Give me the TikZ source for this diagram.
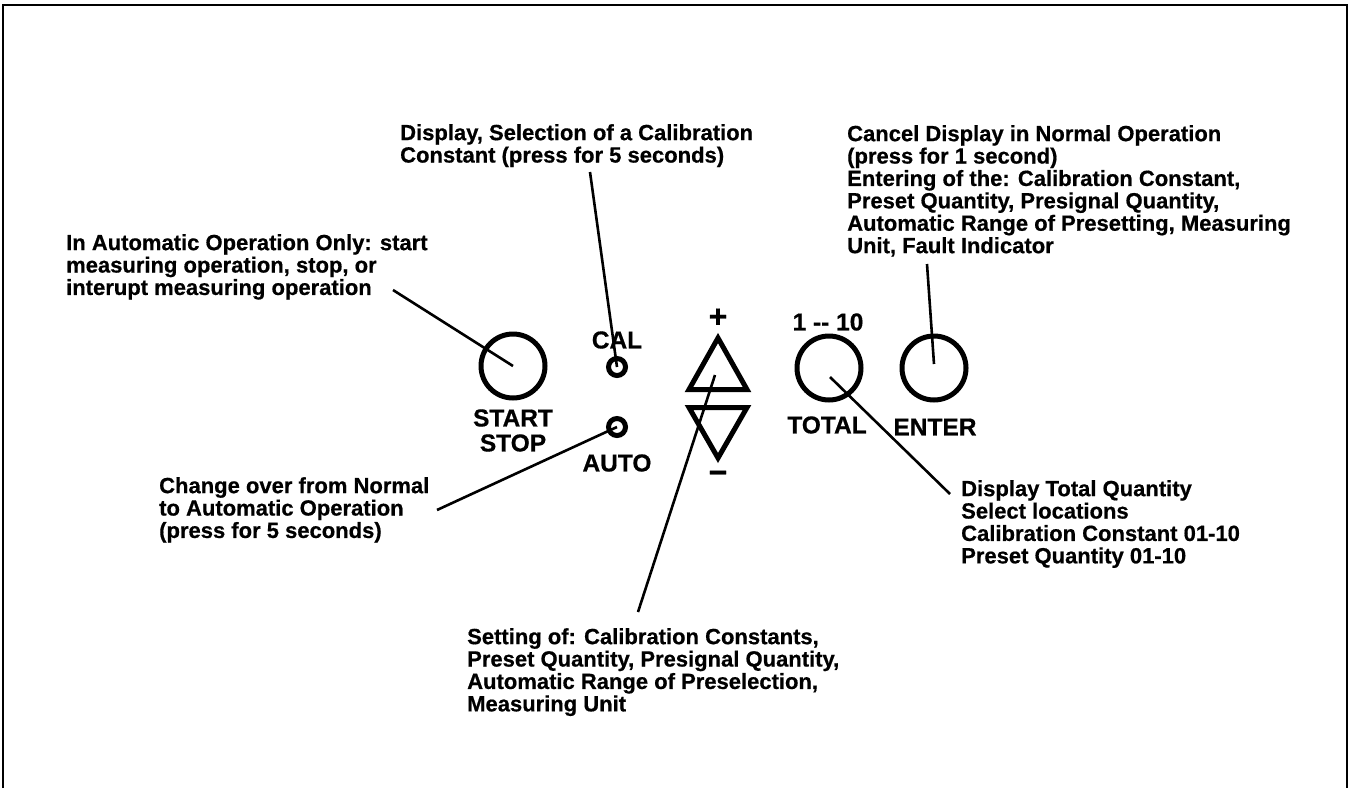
\documentclass[tikz,border=0pt]{standalone}
\usepackage{fontspec}
\setmainfont{Liberation Sans}[BoldFeatures={FakeBold=0.6}]
\begin{document}
\begin{tikzpicture}[x=1pt,y=-1pt,
  lbl/.style={anchor=north west, inner sep=0pt, align=left, font=\fontsize{22}{22.4}\selectfont\bfseries},
  keylbl/.style={inner sep=0pt, font=\fontsize{24.5}{24.5}\selectfont\bfseries},
  signlbl/.style={inner sep=0pt, font=\fontsize{32}{32}\selectfont\bfseries},
  btn/.style={circle, draw, line width=5pt, minimum size=64pt, inner sep=0pt},
  led/.style={circle, draw, line width=5pt, minimum size=17pt, inner sep=0pt},
  leader/.style={line width=2.6pt},
  tri/.style={line width=5pt, line join=miter}]
\useasboundingbox (0,0) rectangle (1350,788);
% frame
\draw[line width=2.2pt] (3,788) -- (3,5) -- (1347,5) -- (1347,788);

% buttons
\node[btn] (start) at (513,366) {};
\node[keylbl] (startt) at (513,418) {START};
\node[keylbl] (stopt) at (513,443) {STOP};
\node[keylbl] (calt) at (617,340) {CAL};
\node[led] (cal) at (617,367) {};
\node[led] (auto) at (617,427) {};
\node[keylbl] (autot) at (617,463) {AUTO};
\node[signlbl] (plus) at (718,318) {+};
\node[signlbl] (minus) at (718,477) {−};
\draw[tri] (689,389.5) -- (718,338) -- (747,389.5) -- cycle;
\draw[tri] (689,407.5) -- (718,458) -- (747,407.5) -- cycle;
\coordinate (updn) at (715,375);
\node[keylbl] (range) at (828,322) {1 -{}- 10};
\node[btn] (total) at (829,368) {};
\node[keylbl] (totalt) at (827,425) {TOTAL};
\node[btn] (enter) at (934,368) {};
\node[keylbl] (entert) at (935,427) {ENTER};

% labels
\node[lbl] (l1) at (66,234) {In Automatic Operation Only: start\\measuring operation, stop, or\\interupt measuring operation};
\node[lbl] (l2) at (400,124) {Display, Selection of a Calibration\\Constant (press for 5 seconds)};
\node[lbl] (l3) at (847,125) {Cancel Display in Normal Operation\\(press for 1 second)\\Entering of the: Calibration Constant,\\Preset Quantity, Presignal Quantity,\\Automatic Range of Presetting, Measuring\\Unit, Fault Indicator};
\node[lbl] (l4) at (159,477) {Change over from Normal\\to Automatic Operation\\(press for 5 seconds)};
\node[lbl] (l5) at (467,628) {Setting of: Calibration Constants,\\Preset Quantity, Presignal Quantity,\\Automatic Range of Preselection,\\Measuring Unit};
\node[lbl] (l6) at (961,480) {Display Total Quantity\\Select locations\\Calibration Constant 01-10\\Preset Quantity 01-10};

% leader ends
\coordinate (e1) at (393,290);
\coordinate (e2) at (590,172);
\coordinate (e3) at (927,264);
\coordinate (e4) at (437,510);
\coordinate (e5) at (638,612);
\coordinate (e6) at (950,494);
\coordinate (t6) at (830,377);

\draw[leader] (e1) -- (start.center);
\draw[leader] (e2) -- (cal.center);
\draw[leader] (e3) -- ([yshift=4pt]enter.center);
\draw[leader] (e4) -- (auto.center);
\draw[leader] (e5) -- (updn);
\draw[leader] (e6) -- (t6);
\end{tikzpicture}
\end{document}
